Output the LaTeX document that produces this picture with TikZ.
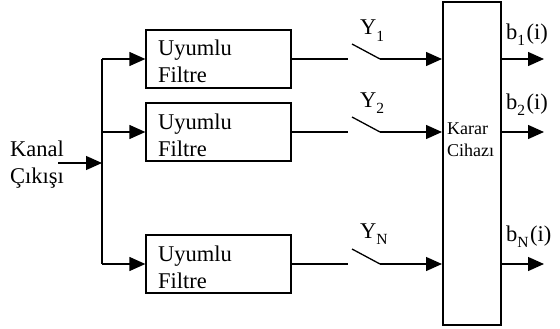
\documentclass[tikz,border=0pt]{standalone}
\usepackage{fontspec}
\setmainfont{Liberation Serif}
\usetikzlibrary{arrows.meta}
\tikzset{
  wire/.style={line width=1.3pt},
  arr/.style={wire,-{Triangle[length=16pt,width=14pt]}},
  filterbox/.style={draw,line width=1.3pt,minimum width=145pt,minimum height=58pt,inner sep=0pt},
  lbl/.style={inner sep=0pt,anchor=base west,font=\fontsize{22.5}{27}\selectfont},
  sub/.style={font=\fontsize{15}{15}\selectfont}
}
\newcommand{\lowsub}[1]{\raisebox{-6pt}{\fontsize{15.5}{15.5}\selectfont #1}}
\begin{document}
\begin{tikzpicture}[x=1pt,y=-1pt]
\useasboundingbox (0,0) rectangle (560,329);

% matched filters
\node[filterbox] (f1) at (218.5,59) {};
\node[filterbox] (f2) at (218.5,132) {};
\node[filterbox] (f3) at (218.5,264) {};
\foreach \n/\y in {f1/59,f2/132,f3/264}{
  \node[lbl] at (158,\y-3) {Uyumlu};
  \node[lbl] at (158,\y+24) {Filtre};
}

% decision device
\node[draw,line width=1.3pt,minimum width=58pt,minimum height=323pt,inner sep=0pt] (dec) at (472,163.5) {};
\node[inner sep=0pt,anchor=base west,font=\fontsize{18}{21}\selectfont] at (447,135) {Karar};
\node[inner sep=0pt,anchor=base west,font=\fontsize{18}{21}\selectfont] at (447,156) {Cihazı};

% channel output and distribution bus
\node[lbl] (kin) at (10,156) {Kanal};
\node[lbl] at (10,183) {Çıkışı};
\coordinate (src) at (58,163);
\coordinate (bus) at (102,163);
\coordinate (bt) at (102,59);
\coordinate (bm) at (102,132);
\coordinate (bb) at (102,264);
\draw[arr] (src) -- (bus);
\draw[wire] (bt) -- (bb);
\draw[arr] (bt) -- (f1.west);
\draw[arr] (bm) -- (f2.west);
\draw[arr] (bb) -- (f3.west);

% sampling switches and decision inputs
\foreach \n/\y in {1/59,2/132,3/264}{
  \coordinate (sa\n) at (348,\y);
  \coordinate (sb\n) at (352,\y-15);
  \coordinate (sc\n) at (380,\y);
  \coordinate (di\n) at (442,\y);
  \draw[wire] (f\n.east) -- (sa\n);
  \draw[wire] (sb\n) -- (sc\n);
  \draw[arr] (sc\n) -- (di\n);
  \coordinate (do\n) at (501,\y);
  \coordinate (oe\n) at (544,\y);
  \draw[arr] (do\n) -- (oe\n);
}

% switch labels
\node[lbl] at (360,35) {Y\lowsub{1}};
\node[lbl] at (360,107) {Y\lowsub{2}};
\node[lbl] at (360,238) {Y\lowsub{N}};

% output labels
\node[lbl] at (506,40) {b\lowsub{1}\kern1.5pt(i)};
\node[lbl] at (506,110) {b\lowsub{2}\kern1.5pt(i)};
\node[lbl] at (506,241) {b\lowsub{N}\kern1.5pt(i)};
\end{tikzpicture}
\end{document}
